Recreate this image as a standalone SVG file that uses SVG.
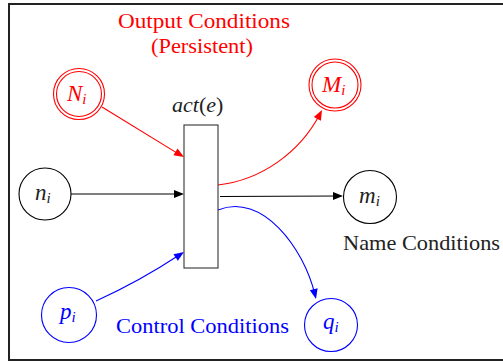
<svg xmlns="http://www.w3.org/2000/svg" width="503" height="362" viewBox="0 0 503 362" font-family="Liberation Serif">
  <defs>
    <!-- arrowhead, tip at the origin, pointing along +x -->
    <path id="ah" d="M0,0 L-10,-4 L-10,4 z"/>
  </defs>
  <style>
    .node { fill: #fff; stroke-width: 1.1; }
    .k { stroke: #000; }
    .r { stroke: #f00; }
    .b { stroke: #00f; }
    .edge { fill: none; stroke-width: 1.1; }
  </style>

  <rect x="0" y="0" width="503" height="362" fill="#fff"/>
  <!-- outer frame -->
  <rect x="9" y="4" width="510" height="356" fill="none" stroke="#222" stroke-width="2"/>

  <!-- labels -->
  <text x="118" y="28" font-size="21" fill="#f00" textLength="172" lengthAdjust="spacingAndGlyphs">Output Conditions</text>
  <text x="151" y="53" font-size="21" fill="#f00" textLength="102" lengthAdjust="spacingAndGlyphs">(Persistent)</text>
  <text x="343" y="250" font-size="21" fill="#222" textLength="157" lengthAdjust="spacingAndGlyphs">Name Conditions</text>
  <text x="116" y="333" font-size="21" fill="#00f" textLength="173" lengthAdjust="spacingAndGlyphs">Control Conditions</text>

  <!-- connectors -->
  <g id="connectors">
    <path class="edge r" d="M102,107 L180,154.9"/>
    <use href="#ah" fill="#f00" transform="translate(184,157) rotate(31.4)"/>
    <path class="edge k" d="M71,194 L180,194"/>
    <use href="#ah" fill="#000" transform="translate(184,194)"/>
    <path class="edge k" d="M220,196.5 L339,196"/>
    <use href="#ah" fill="#000" transform="translate(343,196)"/>
    <path class="edge r" d="M218,185 C262,180 300,152 320,114"/>
    <use href="#ah" fill="#f00" transform="translate(322,110) rotate(-62.4)"/>
    <path class="edge b" d="M218,210 C262,192 304,248 315,295"/>
    <use href="#ah" fill="#00f" transform="translate(316,299) rotate(76.8)"/>
    <path class="edge b" d="M96,301 Q140,281 180,254.5"/>
    <use href="#ah" fill="#00f" transform="translate(184,252) rotate(-33.4)"/>
  </g>

  <!-- transition -->
  <g id="act">
    <rect x="184" y="125" width="34" height="143" fill="#fff" stroke="#333" stroke-width="1.1"/>
    <text font-style="italic" x="172" y="112" font-size="22" fill="#222">act<tspan font-style="normal">(</tspan>e<tspan font-style="normal">)</tspan></text>
  </g>

  <g id="N_i">
    <circle class="node r" cx="79" cy="94" r="25.5"/>
    <circle class="node r" cx="79" cy="94" r="22.5"/>
    <text font-style="italic" x="67" y="101" font-size="23" fill="#f00">N<tspan font-size="15" dy="3">i</tspan></text>
  </g>

  <g id="M_i">
    <circle class="node r" cx="335" cy="85" r="26"/>
    <circle class="node r" cx="335" cy="85" r="23"/>
    <text font-style="italic" x="322" y="92" font-size="23" fill="#f00">M<tspan font-size="15" dy="3">i</tspan></text>
  </g>

  <g id="n_i">
    <circle class="node k" cx="45" cy="194" r="26"/>
    <text font-style="italic" x="35" y="200" font-size="23" fill="#222">n<tspan font-size="15" dy="3">i</tspan></text>
  </g>

  <g id="m_i">
    <circle class="node k" cx="370" cy="197" r="26.5"/>
    <text font-style="italic" x="359" y="203" font-size="23" fill="#222">m<tspan font-size="15" dy="3">i</tspan></text>
  </g>

  <g id="p_i">
    <circle class="node b" cx="69" cy="315" r="27.5"/>
    <text font-style="italic" x="60" y="319" font-size="23" fill="#00f">p<tspan font-size="15" dy="3">i</tspan></text>
  </g>

  <g id="q_i">
    <circle class="node b" cx="331" cy="325" r="26.5"/>
    <text font-style="italic" x="323" y="329" font-size="23" fill="#00f">q<tspan font-size="15" dy="3">i</tspan></text>
  </g>
</svg>
